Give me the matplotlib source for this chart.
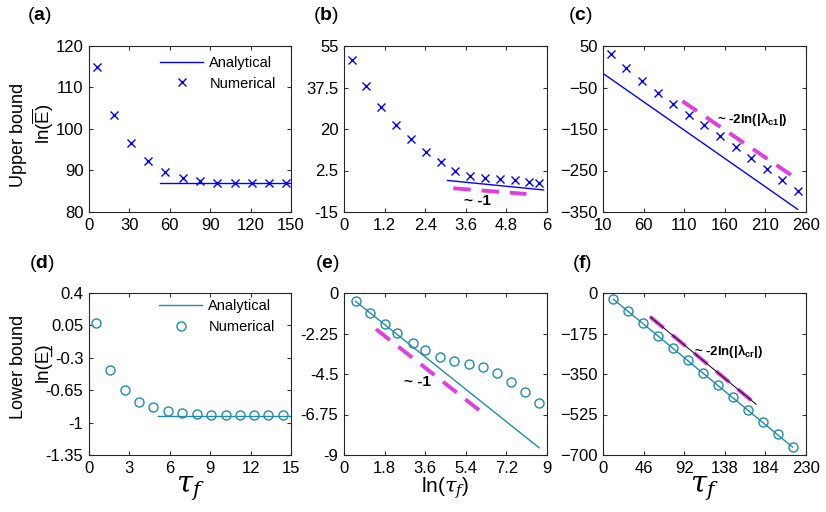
import matplotlib
matplotlib.use("Agg")
import matplotlib.pyplot as plt
import numpy as np

plt.rcParams['font.family'] = ['Liberation Sans', 'DejaVu Sans']
plt.rcParams['mathtext.fontset'] = 'custom'
plt.rcParams['mathtext.rm'] = 'Liberation Sans'
plt.rcParams['mathtext.bf'] = 'Liberation Sans:bold'
plt.rcParams['mathtext.it'] = 'DejaVu Serif:italic'

BLUE = '#0000ff'
TEAL = '#1f8cad'
MAG = '#e03fe0'

# (a) upper bound vs tau_f
a_x = [5.7, 18.3, 31.2, 44.0, 56.7, 69.6, 82.4, 95.3, 108.2, 121.0, 133.7, 146.3]
a_y = [115.0, 103.4, 96.7, 92.4, 89.7, 88.1, 87.4, 87.0, 87.0, 87.0, 87.0, 87.0]
a_ana_x = [52.7, 150]
a_ana_y = [87.0, 87.0]

# (b) upper bound vs ln(tau_f)
b_x = [0.24, 0.65, 1.10, 1.54, 1.98, 2.41, 2.86, 3.28, 3.72, 4.17, 4.60, 5.04, 5.47, 5.76]
b_y = [49.2, 38.3, 29.3, 21.7, 15.6, 10.5, 6.0, 2.4, 0.2, -0.6, -1.2, -1.6, -2.2, -2.6]
b_ana_x = [3.06, 5.90]
b_ana_y = [-1.7, -5.7]
b_fit_x = [3.23, 5.39]
b_fit_y = [-5.0, -7.4]

# (c) upper bound, large tau_f
c_x = [19.5, 38.9, 58.3, 77.3, 96.4, 115.8, 134.8, 154.3, 173.2, 192.2, 211.6, 230.6, 249.7]
c_y = [31.5, -4.0, -35.5, -62.9, -89.5, -115.3, -141.1, -167.7, -193.5, -220.2, -246.8, -272.6, -298.4]
c_ana_x = [10, 249.7]
c_ana_y = [-16.1, -343.5]
c_fit_x = [107.9, 249.3]
c_fit_y = [-83, -271]

# (d) lower bound vs tau_f
d_x = [0.49, 1.58, 2.64, 3.70, 4.76, 5.85, 6.91, 7.99, 9.05, 10.14, 11.20, 12.26, 13.32, 14.38]
d_y = [0.077, -0.434, -0.653, -0.775, -0.836, -0.876, -0.894, -0.908, -0.915, -0.918, -0.92, -0.92, -0.92, -0.92]
d_ana_x = [5.13, 15]
d_ana_y = [-0.926, -0.926]

# (e) lower bound vs ln(tau_f)
e_x = [0.51, 1.17, 1.83, 2.37, 3.04, 3.61, 4.27, 4.87, 5.52, 6.15, 6.78, 7.39, 8.02, 8.65]
e_y = [-0.46, -1.11, -1.72, -2.20, -2.77, -3.18, -3.55, -3.79, -3.94, -4.12, -4.44, -4.92, -5.49, -6.10]
e_ana_x = [0.51, 8.65]
e_ana_y = [-0.46, -8.60]
e_fit_x = [1.42, 6.33]
e_fit_y = [-2.01, -6.84]

# (f) lower bound, large tau_f
f_x = [11.8, 28.1, 45.0, 62.0, 79.0, 96.0, 113.0, 129.9, 146.9, 163.9, 180.9, 197.9, 214.8]
f_y = [-27, -78.6, -131, -186, -239, -291, -346, -399, -451, -506, -559, -611, -666]
f_ana_x = [11.8, 214.8]
f_ana_y = [-27, -666]
f_fit_x = [53.5, 173.5]
f_fit_y = [-103, -481]

fig = plt.figure(figsize=(8.26, 5.12), dpi=100)
W, H = 826, 512


def make_ax(l, r, t, b):
    return fig.add_axes([l / W, 1 - b / H, (r - l) / W, (b - t) / H])


ax_a = make_ax(89, 291, 46, 212)
ax_b = make_ax(344, 547, 46, 212)
ax_c = make_ax(603, 806, 46, 212)
ax_d = make_ax(89, 291, 293, 455)
ax_e = make_ax(344, 547, 293, 455)
ax_f = make_ax(603, 806, 293, 455)

for ax in [ax_a, ax_b, ax_c, ax_d, ax_e, ax_f]:
    ax.tick_params(direction='in', labelsize=12, length=3, top=True, right=True,
                   labeltop=False, labelright=False, color='#333333', pad=4)
    for s in ax.spines.values():
        s.set_color('#262626')
        s.set_linewidth(0.8)

dash = dict(color=MAG, lw=2.8, dashes=(4.5, 2.8))
leg_kw = dict(loc='upper left', frameon=False, fontsize=10.5, handlelength=3,
              handletextpad=0.4, borderaxespad=0, borderpad=0, labelspacing=0.45)

# (a)
ax_a.plot(a_ana_x, a_ana_y, color=BLUE, lw=1, label='Analytical')
ax_a.plot(a_x, a_y, 'x', color=BLUE, ms=6, mew=1, label='Numerical')
ax_a.set_xlim(0, 150)
ax_a.set_ylim(80, 120)
ax_a.set_xticks(np.arange(0, 151, 30))
ax_a.set_yticks(np.arange(80, 121, 10))
ax_a.legend(bbox_to_anchor=(0.35, 0.94), **leg_kw)

# (b)
ax_b.plot(b_ana_x, b_ana_y, color=BLUE, lw=1)
ax_b.plot(b_x, b_y, 'x', color=BLUE, ms=6, mew=1)
ax_b.plot(b_fit_x, b_fit_y, **dash)
ax_b.text(3.55, -10.3, '~ -1', fontsize=11, fontweight='bold', va='center')
ax_b.set_xlim(0, 6)
ax_b.set_ylim(-15, 55)
ax_b.set_xticks([0, 1.2, 2.4, 3.6, 4.8, 6])
ax_b.set_xticklabels(['0', '1.2', '2.4', '3.6', '4.8', '6'])
ax_b.set_yticks([-15, 2.5, 20, 37.5, 55])
ax_b.set_yticklabels(['-15', '2.5', '20', '37.5', '55'])

# (c)
ax_c.plot(c_ana_x, c_ana_y, color=BLUE, lw=1)
ax_c.plot(c_x, c_y, 'x', color=BLUE, ms=6, mew=1)
ax_c.plot(c_fit_x, c_fit_y, **dash)
ax_c.text(150, -127, r'~ -2ln(|$\mathbf{\lambda}$$_{\mathbf{c1}}$|)', fontsize=9.5,
          fontweight='bold', va='center')
ax_c.set_xlim(10, 260)
ax_c.set_ylim(-350, 50)
ax_c.set_xticks(np.arange(10, 261, 50))
ax_c.set_yticks(np.arange(-350, 51, 100))

# (d)
ax_d.plot(d_ana_x, d_ana_y, color=TEAL, lw=1, label='Analytical')
ax_d.plot(d_x, d_y, 'o', color=TEAL, mfc='none', ms=6.5, mew=1, label='Numerical')
ax_d.set_xlim(0, 15)
ax_d.set_ylim(-1.35, 0.4)
ax_d.set_xticks(np.arange(0, 16, 3))
ax_d.set_yticks([-1.35, -1, -0.65, -0.3, 0.05, 0.4])
ax_d.set_yticklabels(['-1.35', '-1', '-0.65', '-0.3', '0.05', '0.4'])
ax_d.legend(bbox_to_anchor=(0.345, 0.96), **leg_kw)

# (e)
ax_e.plot(e_ana_x, e_ana_y, color=TEAL, lw=1)
ax_e.plot(e_x, e_y, 'o', color=TEAL, mfc='none', ms=6.5, mew=1)
ax_e.plot(e_fit_x, e_fit_y, **dash)
ax_e.text(2.65, -4.95, '~ -1', fontsize=11, fontweight='bold', va='center')
ax_e.set_xlim(0, 9)
ax_e.set_ylim(-9, 0)
ax_e.set_xticks([0, 1.8, 3.6, 5.4, 7.2, 9])
ax_e.set_xticklabels(['0', '1.8', '3.6', '5.4', '7.2', '9'])
ax_e.set_yticks([-9, -6.75, -4.5, -2.25, 0])
ax_e.set_yticklabels(['-9', '-6.75', '-4.5', '-2.25', '0'])

# (f)
ax_f.plot(f_ana_x, f_ana_y, color=TEAL, lw=1)
ax_f.plot(f_x, f_y, 'o', color=TEAL, mfc='none', ms=6.5, mew=1)
ax_f.plot(f_fit_x, f_fit_y, **dash)
ax_f.plot(f_fit_x, f_fit_y, color='black', lw=0.7)
ax_f.text(103, -250, r'~ -2ln(|$\mathbf{\lambda}$$_{\mathbf{cr}}$|)', fontsize=9.5,
          fontweight='bold', va='center')
ax_f.set_xlim(0, 230)
ax_f.set_ylim(-700, 0)
ax_f.set_xticks(np.arange(0, 231, 46))
ax_f.set_yticks(np.arange(-700, 1, 175))

# axis labels
ax_d.set_xlabel(r'$\tau_f$', fontsize=21, labelpad=-1)
ax_e.set_xlabel(r'ln($\tau_f$)', fontsize=15, labelpad=0)
ax_f.set_xlabel(r'$\tau_f$', fontsize=21, labelpad=-1)

fig.text(19 / W, 1 - 135 / H, 'Upper bound', rotation=90, fontsize=13,
         ha='center', va='center')
fig.text(43 / W, 1 - 124 / H, r'ln($\overline{\mathrm{E}}$)', rotation=90, fontsize=13.5,
         ha='center', va='center')
fig.text(19 / W, 1 - 367 / H, 'Lower bound', rotation=90, fontsize=13,
         ha='center', va='center')
fig.text(43 / W, 1 - 362 / H, 'ln(E\u0332)', rotation=90, fontsize=13.5,
         ha='center', va='center')

# panel labels
for (px, py, letter) in [(27, 15, 'a'), (313, 15, 'b'), (568, 15, 'c'),
                         (29, 263, 'd'), (315, 263, 'e'), (572, 263, 'f')]:
    fig.text(px / W, 1 - py / H, '(' + r'$\mathbf{' + letter + '}$' + ')',
             fontsize=14, ha='left', va='center')

fig.savefig('out.png', dpi=100)
